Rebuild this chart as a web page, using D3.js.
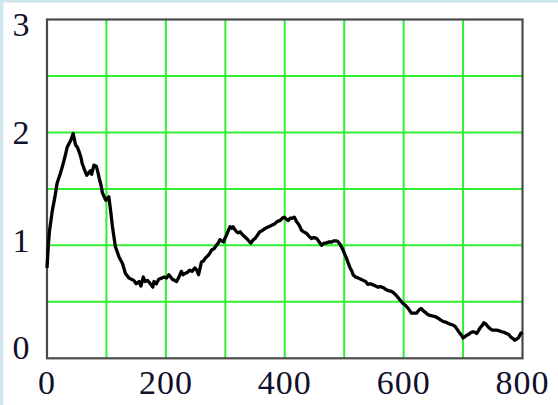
<!DOCTYPE html>
<html>
<head>
<meta charset="utf-8">
<script src="https://cdn.jsdelivr.net/npm/d3@7"></script>
<style>
  html, body { margin: 0; padding: 0; background: #fff; }
</style>
</head>
<body>
<div id="chart"></div>
<script>
// signal
const xValues = [0, 2, 4, 9, 13, 17, 22, 26, 30, 34, 40, 44, 46, 48, 51, 54, 57, 59, 63, 67,
    70, 73, 75, 79, 83, 86, 88, 91, 93, 97, 99, 104, 107, 110, 115, 121, 127, 132, 138, 142,
    146, 150, 155, 158, 162, 165, 169, 174, 178, 180, 184, 188, 193, 197, 201, 205, 211, 218, 222, 226,
    229, 232, 236, 240, 244, 249, 252, 255, 258, 260, 263, 266, 269, 271, 274, 277, 281, 285, 288, 291,
    294, 297, 300, 302, 305, 308, 311, 313, 316, 319, 322, 325, 328, 330, 334, 338, 341, 343, 347, 350,
    354, 358, 362, 367, 371, 375, 379, 383, 387, 392, 396, 399, 403, 406, 409, 412, 416, 420, 423, 426,
    428, 432, 437, 441, 445, 449, 454, 458, 462, 466, 470, 474, 479, 483, 487, 490, 493, 498, 501, 504,
    507, 510, 513, 515, 519, 524, 528, 532, 536, 540, 544, 549, 553, 557, 561, 566, 570, 574, 578, 582,
    587, 591, 595, 599, 603, 608, 613, 617, 622, 626, 630, 633, 636, 640, 644, 648, 653, 658, 662, 667,
    671, 675, 679, 683, 687, 689, 692, 695, 698, 700, 703, 706, 709, 711, 714, 717, 720, 723, 726, 728,
    732, 735, 739, 742, 746, 749, 753, 756, 760, 765, 769, 773, 777, 780, 784, 787, 790, 793, 797, 800];

const yValues = [0.80, 0.98, 1.12, 1.31, 1.42, 1.55, 1.63, 1.70, 1.78, 1.87, 1.93, 1.99, 1.94, 1.89, 1.87, 1.83, 1.78, 1.73, 1.67, 1.62,
    1.64, 1.66, 1.63, 1.71, 1.70, 1.64, 1.59, 1.53, 1.47, 1.42, 1.40, 1.43, 1.31, 1.17, 0.99, 0.90, 0.84, 0.75, 0.71, 0.70,
    0.69, 0.66, 0.68, 0.64, 0.72, 0.68, 0.69, 0.66, 0.63, 0.68, 0.66, 0.70, 0.71, 0.72, 0.71, 0.74, 0.70, 0.68, 0.72, 0.77,
    0.74, 0.75, 0.76, 0.78, 0.77, 0.80, 0.78, 0.74, 0.81, 0.855, 0.86, 0.885, 0.90, 0.91, 0.93, 0.96, 0.97, 1.00, 1.02, 1.05,
    1.04, 1.03, 1.07, 1.09, 1.13, 1.165, 1.15, 1.165, 1.14, 1.12, 1.11, 1.12, 1.10, 1.09, 1.07, 1.05, 1.03, 1.02, 1.05, 1.06,
    1.09, 1.12, 1.13, 1.15, 1.16, 1.17, 1.18, 1.19, 1.21, 1.22, 1.24, 1.25, 1.23, 1.22, 1.24, 1.24, 1.25, 1.21, 1.19, 1.16,
    1.135, 1.12, 1.105, 1.08, 1.06, 1.07, 1.06, 1.03, 1.00, 1.02, 1.02, 1.03, 1.03, 1.04, 1.04, 1.03, 1.01, 0.96, 0.92, 0.885,
    0.84, 0.80, 0.77, 0.74, 0.72, 0.71, 0.70, 0.69, 0.68, 0.655, 0.66, 0.65, 0.64, 0.63, 0.635, 0.625, 0.61, 0.60, 0.595, 0.585,
    0.56, 0.535, 0.51, 0.485, 0.47, 0.44, 0.40, 0.40, 0.40, 0.43, 0.44, 0.42, 0.41, 0.39, 0.38, 0.375, 0.37, 0.355, 0.34, 0.325,
    0.32, 0.31, 0.30, 0.295, 0.28, 0.265, 0.24, 0.22, 0.20, 0.18, 0.19, 0.205, 0.21, 0.22, 0.23, 0.235, 0.23, 0.22, 0.245, 0.265,
    0.29, 0.315, 0.30, 0.28, 0.26, 0.25, 0.25, 0.25, 0.245, 0.235, 0.23, 0.22, 0.21, 0.19, 0.175, 0.16, 0.17, 0.18, 0.22, 0.23];

const xTicks = [0, 200, 400, 600, 800];
const xGrid = [100, 200, 300, 400, 500, 600, 700];
const yTicks = [0, 1, 2, 3];
const yGrid = [0.5, 1, 1.5, 2, 2.5];

const width = 558;
const height = 405;
const plot = { left: 47, top: 19.5, right: 522.5, bottom: 358.3 };

const svg = d3.select("#chart")
    .append("svg")
    .attr("width", width)
    .attr("height", height)
    .style("display", "block");

// light blue window edge
svg.append("rect").attr("x", 0).attr("y", 0).attr("width", width).attr("height", 2.5).attr("fill", "#cfe6ee");
svg.append("rect").attr("x", 0).attr("y", 0).attr("width", 3.5).attr("height", height).attr("fill", "#cfe6ee");

const x = d3.scaleLinear().domain([0, 800]).range([plot.left, plot.right]);
const y = d3.scaleLinear().domain([0, 3]).range([plot.bottom, plot.top]);
// the labels on the y side sit a bit tighter than the grid
const yLabel = d3.scaleLinear().domain([0, 3]).range([348, 25]);

svg.selectAll("line.vgrid")
    .data(xGrid)
    .enter()
    .append("line")
    .attr("class", "vgrid")
    .attr("x1", d => x(d)).attr("x2", d => x(d))
    .attr("y1", plot.top).attr("y2", plot.bottom)
    .attr("stroke", "#2ef02e")
    .attr("stroke-width", 2);

svg.selectAll("line.hgrid")
    .data(yGrid)
    .enter()
    .append("line")
    .attr("class", "hgrid")
    .attr("x1", plot.left).attr("x2", plot.right)
    .attr("y1", d => y(d)).attr("y2", d => y(d))
    .attr("stroke", "#2ef02e")
    .attr("stroke-width", 2);

svg.append("rect")
    .attr("x", plot.left).attr("y", plot.top)
    .attr("width", plot.right - plot.left).attr("height", plot.bottom - plot.top)
    .attr("fill", "none")
    .attr("stroke", "#4a4a4a")
    .attr("stroke-width", 2.2);

const line = d3.line()
    .x(d => x(d[0]))
    .y(d => y(d[1]));

svg.append("path")
    .datum(d3.zip(xValues, yValues))
    .attr("d", line)
    .attr("fill", "none")
    .attr("stroke", "#000")
    .attr("stroke-width", 3.3)
    .attr("stroke-linejoin", "round");

svg.selectAll("text.xlab")
    .data(xTicks)
    .enter()
    .append("text")
    .attr("class", "xlab")
    .attr("x", d => x(d))
    .attr("y", 394)
    .attr("text-anchor", "middle")
    .style("font-family", "'Liberation Serif', 'Times New Roman', serif")
    .style("font-size", "34px")
    .style("letter-spacing", "1px")
    .attr("fill", "#10102a")
    .text(d => d);

svg.selectAll("text.ylab")
    .data(yTicks)
    .enter()
    .append("text")
    .attr("class", "ylab")
    .attr("x", 21)
    .attr("y", d => yLabel(d))
    .attr("dy", "0.33em")
    .attr("text-anchor", "middle")
    .style("font-family", "'Liberation Serif', 'Times New Roman', serif")
    .style("font-size", "34px")
    .attr("fill", "#10102a")
    .text(d => d);
</script>
</body>
</html>
